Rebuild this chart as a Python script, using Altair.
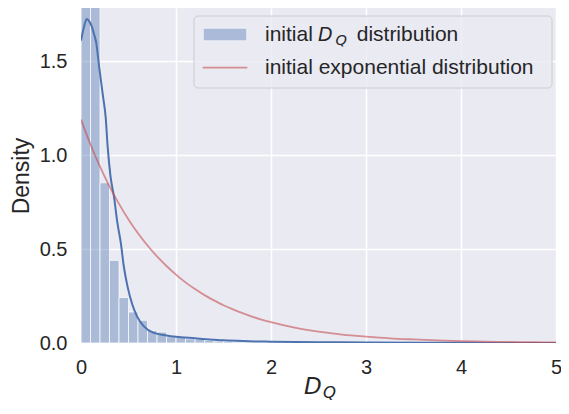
import altair as alt
import pandas as pd

# ---- data ----
bin_start = [0.0, 0.1, 0.2, 0.3, 0.4, 0.5, 0.6, 0.7, 0.8, 0.9, 1.0,
             1.1, 1.2, 1.3, 1.4, 1.5, 1.6, 1.7, 1.8, 1.9, 2.0, 2.1]
bin_density = [4.4, 3.4, 0.853, 0.44, 0.242, 0.165, 0.121, 0.066, 0.058, 0.033, 0.03,
               0.022, 0.021, 0.013, 0.01, 0.008, 0.005, 0.004, 0.003, 0.002, 0.002, 0.001]
bin_width = 0.1

kde_x = [0.0, 0.03, 0.06, 0.09, 0.11, 0.14, 0.16, 0.19, 0.23, 0.26, 0.28, 0.31, 0.35,
         0.38, 0.42, 0.45, 0.49, 0.54, 0.59, 0.66, 0.76, 0.9, 1.0, 1.2, 1.35, 1.5, 1.7,
         2.0, 2.5, 3.0, 4.0, 5.0]
kde_y = [1.61, 1.68, 1.725, 1.71, 1.69, 1.64, 1.6, 1.475, 1.32, 1.2, 1.05, 0.89, 0.77,
         0.65, 0.53, 0.41, 0.3, 0.205, 0.142, 0.09, 0.055, 0.04, 0.033, 0.025, 0.019,
         0.014, 0.01, 0.007, 0.004, 0.003, 0.001, 0.0005]

exp_x = [0.0, 0.1, 0.2, 0.3, 0.4, 0.5, 0.6, 0.7, 0.8, 0.9, 1.0, 1.1, 1.2, 1.3, 1.4,
         1.5, 1.6, 1.7, 1.8, 1.9, 2.0, 2.25, 2.5, 2.75, 3.0, 3.25, 3.5, 3.75, 4.0,
         4.25, 4.5, 4.75, 5.0]
exp_y = [1.19, 1.057, 0.939, 0.834, 0.741, 0.658, 0.584, 0.519, 0.461, 0.41, 0.364,
         0.323, 0.287, 0.255, 0.227, 0.201, 0.179, 0.159, 0.141, 0.125, 0.111, 0.082,
         0.061, 0.045, 0.034, 0.025, 0.019, 0.014, 0.01, 0.0075, 0.0056, 0.004, 0.003]

x_ticks = [0, 1, 2, 3, 4, 5]
y_ticks = [0.0, 0.5, 1.0, 1.5]

hist_df = pd.DataFrame({"start": bin_start, "density": bin_density})
hist_df["end"] = hist_df["start"] + bin_width
kde_df = pd.DataFrame({"x": kde_x, "y": kde_y})
exp_df = pd.DataFrame({"x": exp_x, "y": exp_y})

BLUE = "#4c72b0"
RED = "#c44e52"
TXT = "#262626"
SANS = "Liberation Sans"
MATH = "DejaVu Sans"

xscale = alt.Scale(domain=[0, 5], nice=False, zero=False)
yscale = alt.Scale(domain=[0, 1.784], nice=False)

xaxis = alt.Axis(values=x_ticks, title=None, format="d", labelPadding=14,
                 labelFlush=False)
yaxis = alt.Axis(values=y_ticks, title="Density", format=".1f", labelPadding=14,
                 titlePadding=6)

bars = alt.Chart(hist_df).mark_rect(
    fill=BLUE, fillOpacity=0.4, stroke="white", strokeOpacity=0.7, strokeWidth=1, clip=True
).encode(
    x=alt.X("start:Q", scale=xscale, axis=xaxis),
    x2="end:Q",
    y=alt.Y("density:Q", scale=yscale, axis=yaxis),
    y2=alt.datum(0),
)

kde = alt.Chart(kde_df).mark_line(
    color=BLUE, strokeWidth=2, interpolate="monotone", clip=True
).encode(x=alt.X("x:Q", scale=xscale), y=alt.Y("y:Q", scale=yscale))

expo = alt.Chart(exp_df).mark_line(
    color=RED, strokeOpacity=0.6, strokeWidth=1.8, interpolate="monotone", clip=True
).encode(x=alt.X("x:Q", scale=xscale), y=alt.Y("y:Q", scale=yscale))


def one():
    return alt.Chart(alt.Data(values=[{}]))


def label(text, x, y, size, font=SANS, style="normal"):
    return one().mark_text(
        text=text, align="left", baseline="alphabetic", font=font, fontSize=size,
        fontStyle=style, color=TXT
    ).encode(x=alt.value(x), y=alt.value(y))


# legend (plot-area pixel coordinates)
leg_box = one().mark_rect(
    fill="#eaeaf2", fillOpacity=0.8, stroke="#cccccc", strokeWidth=1, cornerRadius=4
).encode(x=alt.value(113), x2=alt.value(471), y=alt.value(8), y2=alt.value(80))
leg_patch = one().mark_rect(
    fill=BLUE, fillOpacity=0.4, stroke="white", strokeOpacity=0.7, strokeWidth=0.8
).encode(x=alt.value(122.3), x2=alt.value(165.7), y=alt.value(20.3), y2=alt.value(32.7))
leg_line = one().mark_rule(color=RED, strokeOpacity=0.6, strokeWidth=1.8).encode(
    x=alt.value(121.7), x2=alt.value(166.3), y=alt.value(59.7)
)
leg_t1a = label("initial", 184, 33, 21)
leg_t1b = label("D", 237, 33, 19, MATH, "italic")
leg_t1c = label("Q", 254.5, 36.5, 14.5, MATH, "italic")
leg_t1d = label("distribution", 275.7, 33, 21)
leg_t2 = label("initial exponential distribution", 184, 66.3, 21)

# x-axis title D_Q
xt_d = label("D", 223, 386, 23, MATH, "italic")
xt_q = label("Q", 242, 389.5, 16.5, MATH, "italic")

chart = alt.layer(
    bars, kde, expo,
    leg_box, leg_patch, leg_line, leg_t1a, leg_t1b, leg_t1c, leg_t1d, leg_t2,
    xt_d, xt_q,
).properties(
    width=475, height=335,
    autosize=alt.AutoSizeParams(type="none"),
    padding={"left": 73, "top": 0, "right": 5, "bottom": 57},
    background="white",
).configure_view(
    fill="#eaeaf2", strokeWidth=0
).configure_axis(
    grid=True, gridColor="white", gridWidth=1.5, domain=False, ticks=False, tickSize=0,
    labelFont=SANS, labelFontSize=20, labelColor=TXT,
    titleFont=SANS, titleFontSize=23, titleFontWeight="normal", titleColor=TXT,
)

chart.save("out.html", embed_options={"renderer": "svg", "actions": False})
